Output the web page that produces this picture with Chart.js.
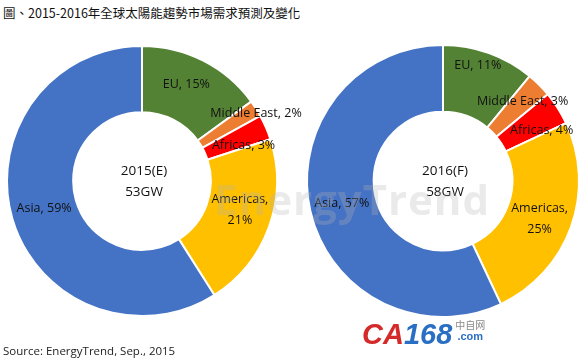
<!DOCTYPE html>
<html>
<head>
<meta charset="utf-8">
<script src="https://cdn.jsdelivr.net/npm/chart.js@4"></script>
<style>
  body { margin: 0; background: #fff; }
  #wrap { position: relative; width: 584px; height: 363px; overflow: hidden; font-family: "Open Sans", "Noto Sans", sans-serif; }
  #title { position: absolute; left: 3px; top: 3px; font: 12.5px "Noto Sans CJK TC", sans-serif; color: #111; white-space: nowrap; }
  #source { position: absolute; left: 3px; top: 343px; font-size: 11.5px; color: #222; white-space: nowrap; }
  canvas { position: absolute; }
  #c1 { left: 0; top: 30px; }
  #c2 { left: 290px; top: 30px; }
  #wm { position: absolute; left: 214px; top: 170px; font: bold 42px "Open Sans", sans-serif; color: rgba(180,180,180,0.28); white-space: nowrap; letter-spacing: 1px; pointer-events: none; }
  #logo { position: absolute; left: 362px; top: 318px; white-space: nowrap; font: italic bold 29px "Liberation Sans", sans-serif; }
  #logo .ca { color: #d42a2a; }
  #logo .n { color: #2b6fc4; }
  #logo .cn { display: inline-block; font: 10px "Noto Sans CJK SC", sans-serif; color: #888; line-height: 11px; vertical-align: 4px; margin-left: 3px; text-align: center; }
  #logo .cn b { color: #2b6fc4; font: bold 11px "Liberation Sans", sans-serif; }
</style>
</head>
<body>
<div id="wrap">
  <div id="title">圖、2015-2016年全球太陽能趨勢市場需求預測及變化</div>
  <canvas id="c2" width="294" height="310"></canvas>
  <canvas id="c1" width="320" height="310"></canvas>
  <div id="wm">EnergyTrend</div>
  <div id="logo"><span class="ca">CA</span><span class="n">168</span><span class="cn">中自网<br><b>.com</b></span></div>
  <div id="source">Source: EnergyTrend, Sep., 2015</div>
</div>
<script>
// 區域與數值 (%)
var regions = ["EU", "Middle East", "Africas", "Americas", "Asia"];
var share2015 = [15, 2, 3, 21, 59];
var share2016 = [11, 3, 4, 25, 57];
var centerText2015 = ["2015(E)", "53GW"];
var centerText2016 = ["2016(F)", "58GW"];

var colors = ["#548235", "#ED7D31", "#FF0000", "#FFC000", "#4472C4"];

// label nudges from the arc centroid
var nudge2015 = [[-2, -6], [28, -13], [8, 5], [2, -6], [0, -1]];
var nudge2016 = [[0, -19], [7, -7], [12, 4], [0, 3], [-1, 0]];

var labelPlugin = {
  id: "sliceLabels",
  afterDraw: function (chart) {
    var ctx = chart.ctx;
    var opts = chart.options.plugins.sliceLabels;
    var meta = chart.getDatasetMeta(0);
    var vals = chart.data.datasets[0].data;
    ctx.save();
    ctx.fillStyle = "#111";
    ctx.textAlign = "center";
    ctx.textBaseline = "middle";
    ctx.font = "12.5px 'Open Sans', sans-serif";
    meta.data.forEach(function (arc, i) {
      var p = arc.tooltipPosition();
      var x = p.x + opts.nudge[i][0];
      var y = p.y + opts.nudge[i][1];
      var name = chart.data.labels[i];
      if (name == "Americas") {
        ctx.fillText(name + ",", x, y - 10);
        ctx.fillText(vals[i] + "%", x, y + 11);
      } else {
        ctx.fillText(name + ", " + vals[i] + "%", x, y);
      }
    });
    // 中心文字
    var a = meta.data[0];
    ctx.font = "13.5px 'Open Sans', sans-serif";
    ctx.fillText(opts.center[0], a.x + 2, a.y - 10);
    ctx.fillText(opts.center[1], a.x + 2, a.y + 11);
    ctx.restore();
  }
};

function makeDonut(id, values, center, nudge, pad) {
  return new Chart(document.getElementById(id), {
    type: "doughnut",
    data: {
      labels: regions,
      datasets: [{
        data: values,
        backgroundColor: colors,
        borderColor: "#fff",
        borderWidth: 2
      }]
    },
    options: {
      responsive: false,
      animation: false,
      cutout: "51%",
      layout: { padding: pad },
      plugins: {
        legend: { display: false },
        tooltip: { enabled: false },
        sliceLabels: { nudge: nudge, center: center }
      }
    },
    plugins: [labelPlugin]
  });
}

makeDonut("c1", share2015, centerText2015, nudge2015, { left: 6, right: 42, top: 15, bottom: 23 });
makeDonut("c2", share2016, centerText2016, nudge2016, { left: 16, right: 4, top: 14, bottom: 22 });
</script>
</body>
</html>
